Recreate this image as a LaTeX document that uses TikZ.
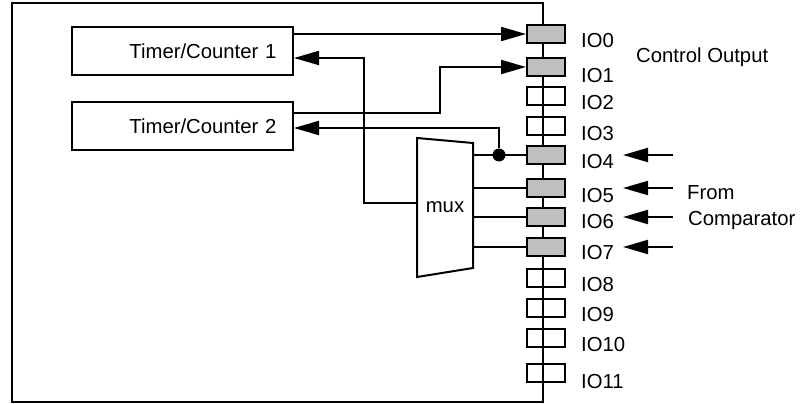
\documentclass[tikz,border=0pt]{standalone}
\usepackage{fontspec}
\setmainfont{Liberation Sans}
\usetikzlibrary{arrows.meta,positioning}
\tikzset{
    timerblock/.style={draw, line width=2pt, minimum width=221pt, minimum height=48pt, text width=188pt, inner xsep=16.5pt, align=right},
    iopad/.style={draw, line width=2pt, minimum width=38pt, minimum height=18pt, inner sep=0pt},
    iopadon/.style={iopad, fill=black!25},
    iolabel/.style={anchor=base west, inner sep=0pt},
    sigline/.style={line width=2pt},
    sigarrow/.style={sigline, -{Triangle[length=25pt, width=14pt]}},
    junction/.style={circle, fill, inner sep=0pt, minimum size=13pt}
}
\begin{document}
\begin{tikzpicture}[x=1pt, y=-1pt, font=\fontsize{20.3}{24}\selectfont]
        \useasboundingbox (0,0) rectangle (803,404);
        % chip outline, right side carries the pads
        \draw[sigline] (12,3) rectangle (543,402);
        \node[timerblock] (tc1) at (182.5,51) {Timer/Counter 1};
        \node[timerblock, below=25pt of tc1] (tc2) {Timer/Counter 2};
        % pads
        \node[iopadon] (io0) at (546,34) {};
        \node[iopadon] (io1) at (546,67) {};
        \node[iopad] (io2) at (546,96) {};
        \node[iopad] (io3) at (546,126) {};
        \node[iopadon] (io4) at (546,155) {};
        \node[iopadon] (io5) at (546,188) {};
        \node[iopadon] (io6) at (546,217) {};
        \node[iopadon] (io7) at (546,247) {};
        \node[iopad] (io8) at (546,278) {};
        \node[iopad] (io9) at (546,308) {};
        \node[iopad] (io10) at (546,338) {};
        \node[iopad] (io11) at (546,373) {};
        \node[iolabel] (lbl0) at (581,48) {IO0};
        \node[iolabel] (lbl1) at (581,82.5) {IO1};
        \node[iolabel] (lbl2) at (581,110) {IO2};
        \node[iolabel] (lbl3) at (581,140.5) {IO3};
        \node[iolabel] (lbl4) at (581,168) {IO4};
        \node[iolabel] (lbl5) at (581,202.5) {IO5};
        \node[iolabel] (lbl6) at (581,228) {IO6};
        \node[iolabel] (lbl7) at (581,259.5) {IO7};
        \node[iolabel] (lbl8) at (581,291) {IO8};
        \node[iolabel] (lbl9) at (581,321.5) {IO9};
        \node[iolabel] (lbl10) at (581,351.5) {IO10};
        \node[iolabel] (lbl11) at (581,388) {IO11};
        \node[iolabel] (ctrllabel) at (636,63) {Control Output};
        \node[iolabel] (fromlabel) at (687,199) {From};
        \node[iolabel] (cmplabel) at (688,225) {Comparator};
        % mux
        \draw[sigline, line join=miter] (417,138) -- (473,143) -- (473,268) -- (417,277) -- cycle;
        \node[minimum width=56pt, minimum height=139pt, inner sep=0pt] (mux) at (445,207) {mux};
        \node[junction] (tap) at (499,155) {};
        % connections
        \draw[sigarrow] (tc1.east |- io0.west) -- (io0.west);
        \draw[sigarrow] ([yshift=13pt]tc2.east) -- ++(146pt,0pt) |- (io1.west);
        \draw[sigarrow] ([yshift=4pt]mux.west) -- ++(-53pt,0pt) |- ([yshift=-7pt]tc1.east);
        \draw[sigarrow] (tap) |- ([yshift=-2pt]tc2.east);
        \draw[sigline] (mux.east |- io4) -- (io4);
        \draw[sigline] (mux.east |- io5) -- (io5);
        \draw[sigline] (mux.east |- io6) -- (io6);
        \draw[sigline] (mux.east |- io7) -- (io7);
        % comparator inputs
        \coordinate (cmpin) at (673,0);
        \coordinate (cmptip) at (623,0);
        \draw[sigarrow] (cmpin |- io4) -- (cmptip |- io4);
        \draw[sigarrow] (cmpin |- io5) -- (cmptip |- io5);
        \draw[sigarrow] (cmpin |- io6) -- (cmptip |- io6);
        \draw[sigarrow] (cmpin |- io7) -- (cmptip |- io7);
    \end{tikzpicture}
\end{document}
